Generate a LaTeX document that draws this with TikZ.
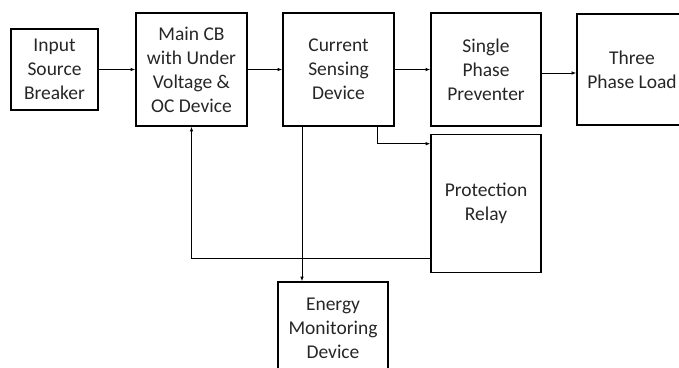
\documentclass[tikz,border=0pt]{standalone}
\usepackage{fontspec}
\setmainfont{Carlito}
\usetikzlibrary{arrows.meta}
\begin{document}
\begin{tikzpicture}[x=1pt,y=1pt,
  blk/.style={draw=black,line width=1.6pt,inner sep=0pt,align=center,
    font=\fontsize{19.5}{24}\selectfont,text=black!85},
  arr/.style={draw=black,line width=0.8pt,-{Latex[length=4.5pt,width=3.5pt]}}]
\useasboundingbox (0,0) rectangle (679,-367);
\begin{scope}
\clip (0,0) rectangle (679,-367);
\node[blk,minimum width=87,minimum height=81] (in) at (54.5,-69.5) {Input\\Source\\Breaker};
\node[blk,minimum width=111,minimum height=113] (cb) at (191.5,-69.5) {Main CB\\with Under\\Voltage \&\\OC Device};
\node[blk,minimum width=111,minimum height=113] (cs) at (338.5,-69.5) {Current\\Sensing\\Device};
\node[blk,minimum width=110,minimum height=113] (sp) at (486,-69.5) {Single\\Phase\\Preventer};
\node[blk,minimum width=110,minimum height=111] (tl) at (632,-69.5) {Three\\Phase Load};
\node[blk,minimum width=110,minimum height=138] (pr) at (486,-203.5) {Protection\\Relay};
\node[blk,minimum width=110,minimum height=93] (em) at (333,-328.5) {Energy\\Monitoring\\Device};
\end{scope}
\draw[arr] (in) -- (cb);
\draw[arr] (cb) -- (cs);
\draw[arr] (cs) -- (sp);
\draw[arr] ([yshift=-3.5]sp.east) -- ([yshift=-3.5]tl.west);
\draw[arr] ([xshift=38.5]cs.south) |- ([yshift=-10]pr.north west);
\draw[arr] ([xshift=-36.5]cs.south) -- ([xshift=-36.5]cs.south |- em.north);
\draw[arr] ([yshift=-54.5]pr.west) -| (cb.south);
\end{tikzpicture}
\end{document}
